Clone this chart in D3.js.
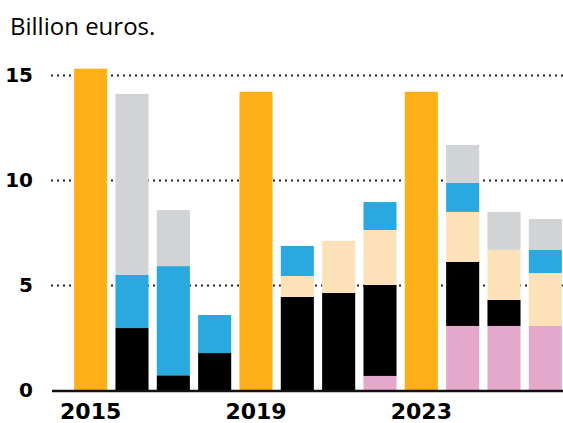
<!DOCTYPE html>
<html>
<head>
<meta charset="utf-8">
<script src="https://cdn.jsdelivr.net/npm/d3@7"></script>
<style>
  body { margin: 0; background: #fff; }
  svg { display: block; }
</style>
</head>
<body>
<svg id="chart" width="563" height="423"></svg>
<script>
// values in billion euros
var years = ["2015", "2016", "2017", "2018", "2019", "2020", "2021", "2022", "2023", "2024", "2025", "2026"];
var orange = [15.3, 0, 0, 0, 14.2, 0, 0, 0, 14.2, 0, 0, 0];
var pink   = [0, 0, 0, 0, 0, 0, 0, 0.67, 0, 3.05, 3.05, 3.05];
var black  = [0, 2.95, 0.7, 1.76, 0, 4.43, 4.62, 4.33, 0, 3.05, 1.24, 0];
var beige  = [0, 0, 0, 0, 0, 1.0, 2.48, 2.62, 0, 2.38, 2.38, 2.52];
var blue   = [0, 2.53, 5.2, 1.81, 0, 1.43, 0, 1.33, 0, 1.38, 0, 1.1];
var gray   = [0, 8.62, 2.67, 0, 0, 0, 0, 0, 0, 1.81, 1.81, 1.47];
var yTicks = [0, 5, 10, 15];
var xLabels = ["2015", "2019", "2023"];

var keys = ["orange", "pink", "black", "beige", "blue", "gray"];
var colors = {
  orange: "#fcaf17",
  pink: "#e3a8cb",
  black: "#000000",
  beige: "#fde2b9",
  blue: "#29a9e0",
  gray: "#d1d3d4"
};

var rows = years.map(function (yr, i) {
  return {
    year: yr,
    orange: orange[i],
    pink: pink[i],
    black: black[i],
    beige: beige[i],
    blue: blue[i],
    gray: gray[i]
  };
});

var svg = d3.select("#chart");

var x = d3.scaleBand()
  .domain(years)
  .range([70, 566])
  .paddingInner(0.2)
  .paddingOuter(0.1);

var y = d3.scaleLinear().domain([0, 15]).range([390, 75]);

// title
svg.append("text")
  .attr("x", 10)
  .attr("y", 35)
  .attr("font-family", "'Open Sans', sans-serif")
  .attr("font-size", 24)
  .attr("fill", "#000")
  .text("Billion euros.");

// dotted gridlines
svg.append("g")
  .selectAll("line")
  .data(yTicks.filter(function (d) { return d > 0; }))
  .join("line")
  .attr("x1", 51)
  .attr("x2", 563)
  .attr("y1", function (d) { return Math.round(y(d)) + 0.5; })
  .attr("y2", function (d) { return Math.round(y(d)) + 0.5; })
  .attr("stroke", "#222")
  .attr("stroke-width", 2)
  .attr("stroke-dasharray", "2 4");

// y tick labels
svg.append("g")
  .selectAll("text")
  .data(yTicks)
  .join("text")
  .attr("x", 33)
  .attr("y", function (d) { return y(d) + 7; })
  .attr("text-anchor", "end")
  .attr("font-family", "'DejaVu Sans', sans-serif")
  .attr("font-weight", "bold")
  .attr("font-size", 20)
  .attr("fill", "#000")
  .text(function (d) { return d; });

// stacked bars
var stacked = d3.stack().keys(keys)(rows);

svg.append("g")
  .selectAll("g")
  .data(stacked)
  .join("g")
  .attr("fill", function (s) { return colors[s.key]; })
  .selectAll("rect")
  .data(function (s) { return s.filter(function (d) { return d[1] - d[0] > 0; }); })
  .join("rect")
  .attr("x", function (d) { return x(d.data.year); })
  .attr("width", x.bandwidth())
  .attr("y", function (d) { return y(d[1]); })
  .attr("height", function (d) { return y(d[0]) - y(d[1]); });

// baseline
svg.append("line")
  .attr("x1", 52)
  .attr("x2", 563)
  .attr("y1", y(0) + 1)
  .attr("y2", y(0) + 1)
  .attr("stroke", "#111")
  .attr("stroke-width", 2.5);

// x labels
svg.append("g")
  .selectAll("text")
  .data(xLabels)
  .join("text")
  .attr("x", function (d) { return x(d) + x.bandwidth() / 2; })
  .attr("y", 419)
  .attr("text-anchor", "middle")
  .attr("font-family", "'DejaVu Sans', sans-serif")
  .attr("font-weight", "bold")
  .attr("font-size", 22)
  .attr("fill", "#000")
  .text(function (d) { return d; });
</script>
</body>
</html>
